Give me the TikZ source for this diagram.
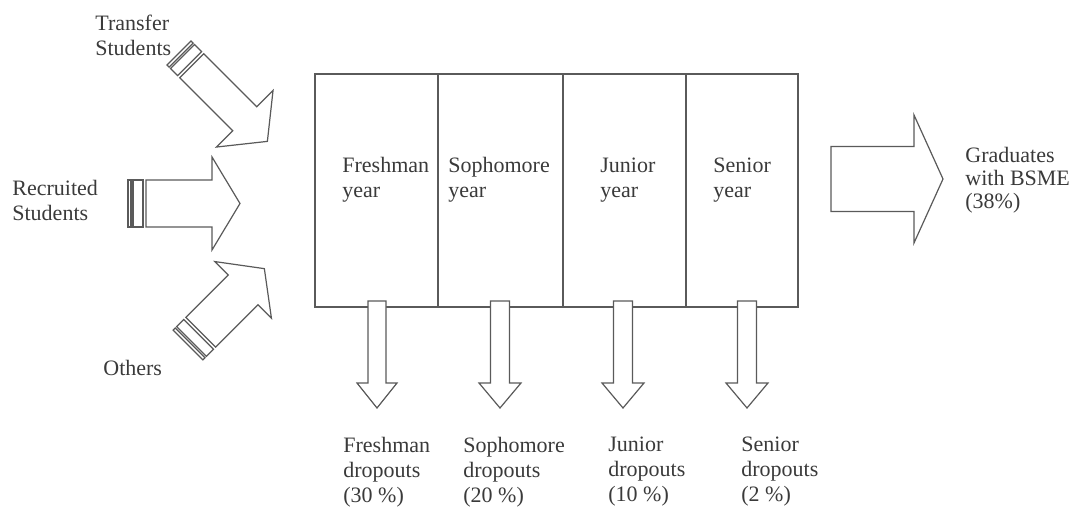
\documentclass[tikz,border=0pt]{standalone}
\usepackage{fontspec}
\setmainfont{Liberation Serif}
\definecolor{linegray}{HTML}{5A5A5A}
\definecolor{textgray}{HTML}{3A3A3A}
\tikzset{
	lbl/.style={anchor=west, align=left, inner sep=0pt, text=textgray, font=\fontsize{11}{12.5}\selectfont},
	cell/.style={draw=linegray, line width=0.6pt, minimum height=116.5pt, inner sep=0pt},
	outline/.style={draw=linegray, line width=0.6pt, fill=white},
	% length / shaft half width / head half width / head length
	pics/fatarrow/.style args={#1/#2/#3/#4}{code={
		\draw[outline] (0,-#2) -- ({#1-#4},-#2) -- ({#1-#4},-#3) -- (#1,0) -- ({#1-#4},#3) -- ({#1-#4},#2) -- (0,#2) -- cycle;
	}},
	pics/striparrow/.style args={#1/#2/#3/#4}{code={
		\draw[outline] (0,-#2) rectangle (3,#2);
		\draw[outline] (5,-#2) rectangle (15,#2);
		\draw[outline] (18,-#2) -- ({#1-#4},-#2) -- ({#1-#4},-#3) -- (#1,0) -- ({#1-#4},#3) -- ({#1-#4},#2) -- (18,#2) -- cycle;
	}}
}
\begin{document}
\begin{tikzpicture}[x=0.5pt, y=-0.5pt]
	\useasboundingbox (0,0) rectangle (1073,513);

	% incoming students
	\pic[rotate=-45] at (179,53) 	{striparrow={125/17/40/32}};
	\pic 			 at (128,203.5) {striparrow={112/23.5/46.5/28}};
	\pic[rotate=45]  at (188,345) 	{striparrow={108/21/40/30}};
	\node[lbl] (transfer) 	at (95,35) 	{Transfer\\Students};
	\node[lbl] (recruited) 	at (12,200) {Recruited\\Students};
	\node[lbl] (others) 	at (103,368) {Others};

	% the four years
	\node[cell, minimum width=61.5pt] (fresh) 	at (376.5,190.5) {};
	\node[cell, minimum width=62.5pt] (soph) 	at (500.5,190.5) {};
	\node[cell, minimum width=61.5pt] (jun) 	at (624.5,190.5) {};
	\node[cell, minimum width=56pt] 	 (sen) 	at (742,190.5) 	 {};
	\node[lbl] (fresh_t) 	at (342,180) {Freshman\\year};
	\node[lbl] (soph_t) 	at (448,180) {Sophomore\\year};
	\node[lbl] (jun_t) 		at (600,180) {Junior\\year};
	\node[lbl] (sen_t) 		at (713,180) {Senior\\year};

	% graduates
	\pic at (831,179) {fatarrow={112/32.5/64/29}};
	\node[lbl, font=\fontsize{11}{11.5}\selectfont] (grad) at (965,180) {Graduates\\with BSME\\(38\%)};

	% dropouts
	\pic[rotate=-90] at (377,301) {fatarrow={107/9/20/25}};
	\pic[rotate=-90] at (500,301) {fatarrow={107/9.5/21/25}};
	\pic[rotate=-90] at (623,301) {fatarrow={107/9.5/21/25}};
	\pic[rotate=-90] at (747,301) {fatarrow={107/9.5/21/25}};
	\node[lbl] (fresh_d) 	at (343,472) {Freshman\\dropouts\\(30 \%)};
	\node[lbl] (soph_d) 	at (463,472) {Sophomore\\dropouts\\(20 \%)};
	\node[lbl] (jun_d) 		at (608,472) {Junior\\dropouts\\(10 \%)};
	\node[lbl] (sen_d) 		at (741,472) {Senior\\dropouts\\(2 \%)};
\end{tikzpicture}
\end{document}
